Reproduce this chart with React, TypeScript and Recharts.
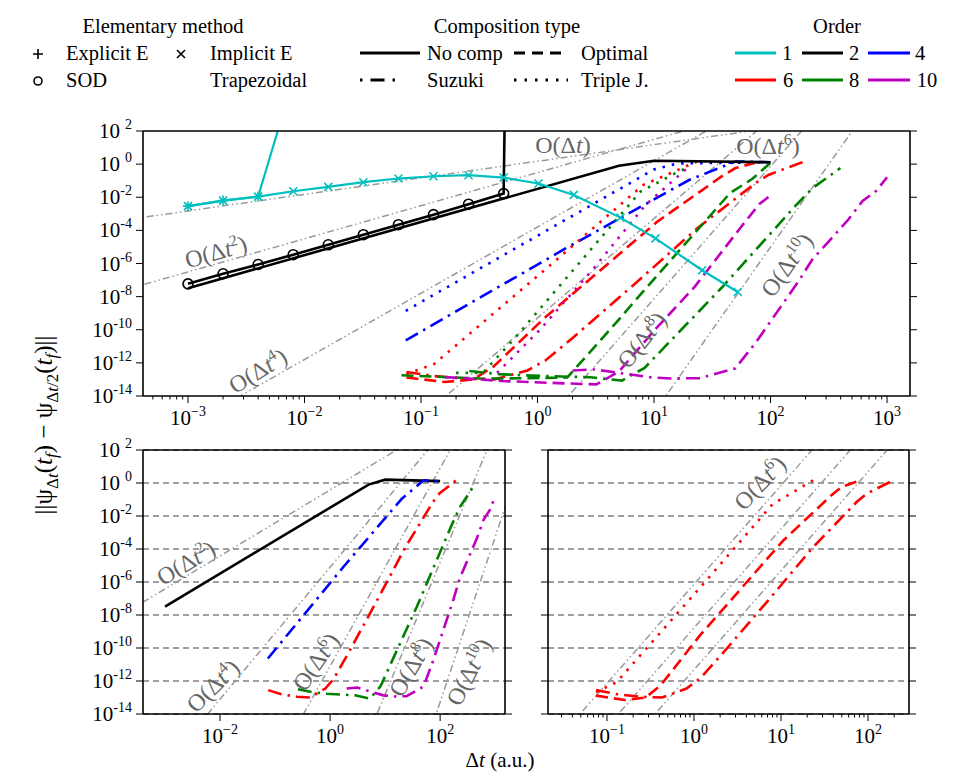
import React from 'react';
import { LineChart, Line, XAxis, YAxis, CartesianGrid } from 'recharts';

type Pt = [number, number];

const FONT = "'Liberation Serif', 'DejaVu Serif', 'Times New Roman', serif";

// ---------- error vs time step, [dt (a.u.), error] ----------

// order 1 elementary propagators
const implicitEuler: Pt[] = [
  [1e-3, 2.9e-3], [2e-3, 6.3e-3], [4e-3, 1.1e-2], [8e-3, 2.3e-2], [1.6e-2, 4.2e-2],
  [3.2e-2, 8.1e-2], [6.4e-2, 0.135], [0.128, 0.186], [0.256, 0.214], [0.512, 0.155],
  [1.02, 0.068], [2.05, 1.38e-2], [5.15, 5.9e-4], [10.3, 3.3e-5], [25.9, 3.9e-7], [52.4, 1.9e-8],
];
const explicitEuler: Pt[] = [[1e-3, 2.9e-3], [2e-3, 6.3e-3], [4e-3, 1.1e-2], [8e-3, 1.3e5]];

// order 2 elementary propagators
const sod: Pt[] = [
  [1e-3, 5.9e-8], [2e-3, 2.4e-7], [4e-3, 8.7e-7], [8e-3, 3.4e-6], [1.6e-2, 1.35e-5],
  [3.2e-2, 5.5e-5], [6.4e-2, 2.2e-4], [0.128, 8.9e-4], [0.256, 3.8e-3], [0.512, 1.66e-2],
  [1.024, 1e150],
];
const trapezoidal: Pt[] = [[1e-3, 3.2e-8], [5, 0.8], [10, 1.6], [100, 1.3]];

// order 4 compositions
const triple4: Pt[] = [[0.074, 1.4e-9], [10, 0.48], [16, 1.1], [100, 1.3]];
const suzuki4: Pt[] = [[0.074, 2.3e-11], [1.74, 8.1e-6], [20, 0.11], [50, 1.45], [100, 1.3]];

// order 6 compositions
const triple6: Pt[] = [[0.075, 2.1e-13], [0.13, 8.7e-13], [1.26, 7e-7], [8.1, 5.6e-2], [13.8, 0.28], [23.4, 1.45]];
const optimal6: Pt[] = [
  [0.075, 1.3e-13], [0.16, 7e-14], [0.28, 1e-13], [0.42, 6e-13], [1.17, 5.8e-10],
  [10.7, 3.4e-4], [38, 0.18], [50, 0.58], [81, 1.45],
];
const suzuki6: Pt[] = [
  [0.075, 2.8e-13], [0.13, 1.6e-13], [0.25, 1.1e-13], [0.43, 1e-13], [0.82, 3.5e-13],
  [1.17, 1.4e-12], [2.0, 3.2e-11], [6.9, 6.2e-8], [23.4, 1.3e-4], [74, 7e-2], [97, 0.23], [195, 1.45],
];

// order 8 compositions
const triple8: Pt[] = [[0.2, 2.5e-13], [0.34, 2.5e-13], [0.63, 2.8e-11], [7.66, 2.2e-2], [16.3, 0.36], [20.6, 0.72]];
const optimal8: Pt[] = [
  [0.068, 1.8e-13], [0.35, 1.1e-13], [1.8, 1.3e-13], [4.8, 3e-10], [6.9, 5.8e-9],
  [45, 1.8e-2], [70, 0.13], [100, 1.2],
];
const suzuki8: Pt[] = [
  [0.26, 3.2e-13], [0.47, 2.1e-13], [0.87, 1.7e-13], [2.85, 1.35e-13], [5.3, 8.5e-14],
  [8.3, 5e-13], [37.7, 3.2e-8], [162, 2.8e-3], [229, 3.5e-2], [398, 0.58],
];

// order 10 compositions
const triple10: Pt[] = [[0.45, 2.5e-13], [0.57, 1.3e-12], [1.03, 8.7e-11], [2.95, 4e-7], [8.45, 3.4e-3], [20, 0.72]];
const optimal10: Pt[] = [
  [0.16, 1.4e-13], [0.5, 8e-14], [1.5, 6e-14], [3.2, 5e-14], [5.0, 3e-13], [10, 8.7e-11],
  [22.4, 4e-8], [55, 1.4e-4], [80, 3.8e-3], [100, 1.3e-2],
];
const suzuki10: Pt[] = [
  [2.0, 3.5e-13], [3.1, 4e-13], [9.3, 1.35e-13], [14, 1.15e-13], [24.5, 1.2e-13], [50, 4.7e-13],
  [76, 2e-11], [107, 6.3e-10], [174, 8.5e-8], [229, 1.8e-6], [327, 2.8e-5], [468, 4.7e-4],
  [617, 6e-3], [813, 2.5e-2], [1000, 0.16],
];

// ---------- reference slopes O(dt^n) ----------
const guideTop1: Pt[] = [[1e-4, 1.49e-4], [1e4, 1.49e4]];
const guideTop2: Pt[] = [[1e-4, 3.1e-9], [1e4, 3.1e7]];
const guideTop4: Pt[] = [[1e-4, 1.6e-20], [1e4, 1.6e12]];
const guideTop6: Pt[] = [[1e-2, 5.2e-22], [1e4, 5.2e14]];
const guideTop8: Pt[] = [[0.1, 7.4e-25], [1e3, 7.4e7]];
const guideTop10: Pt[] = [[1, 9.8e-26], [1e4, 9.8e14]];

const guideLeft2: Pt[] = [[1e-4, 3.8e-9], [1e4, 3.8e7]];
const guideLeft4: Pt[] = [[1e-4, 7.9e-22], [1e4, 7.9e10]];
const guideLeft6: Pt[] = [[1e-2, 7.9e-24], [1e4, 7.9e12]];
const guideLeft8: Pt[] = [[0.1, 1.55e-29], [1e4, 1.55e11]];
const guideLeft10: Pt[] = [[1, 5.2e-34], [1e4, 5.2e6]];

const guideRightA: Pt[] = [[1e-2, 7.2e-19], [1e3, 7.2e11]];
const guideRightB: Pt[] = [[1e-2, 1.65e-21], [1e3, 1.65e9]];
const guideRightC: Pt[] = [[1e-2, 4.8e-24], [1e3, 4.8e6]];

// ---------- axis ticks ----------
const yTicks = [1e-14, 1e-12, 1e-10, 1e-8, 1e-6, 1e-4, 1e-2, 1, 1e2];
const topDecades = [1e-3, 1e-2, 1e-1, 1, 10, 100, 1000];
const leftDecades = [1e-2, 1, 100];
const rightDecades = [0.1, 1, 10, 100];

const Y_DOMAIN: [number, number] = [1e-14, 1e2];
const TOP_X: [number, number] = [4.11e-4, 1.575e3];
const LEFT_X: [number, number] = [3.98e-4, 1.51e3];
const RIGHT_X: [number, number] = [2.1e-2, 296];

function minorTicks(domain: [number, number]): number[] {
  const out: number[] = [];
  for (let k = -5; k <= 4; k++) {
    for (let m = 2; m <= 9; m++) {
      const v = m * Math.pow(10, k);
      if (v > domain[0] && v < domain[1]) out.push(v);
    }
  }
  return out;
}

const COL = {
  cyan: '#00BFBF', black: '#000000', blue: '#0000FF', red: '#FF0000',
  green: '#008000', magenta: '#BF00BF', guide: '#9a9a9a', label: '#666666',
};
const DASHED = '12 6';
const DASHDOT = '14 6 2.5 6';
const DOTTED = '2.5 7';
const GUIDE = '7 3 1.5 3 1.5 3';

const rows = (pts: Pt[]) => pts.map(([x, y]) => ({ x, y }));
const log10 = (v: number) => Math.log(v) / Math.LN10;
const sameDecade = (a: number, b: number) => Math.abs(log10(a) - log10(b)) < 1e-6;

// ---------- markers ----------
const xMarker = (color: string) => (p: any) => {
  const { cx, cy, index } = p;
  if (!isFinite(cx) || !isFinite(cy)) return <g key={`x${index}`} />;
  return (
    <path key={`x${index}`} d={`M${cx - 4},${cy - 4}L${cx + 4},${cy + 4}M${cx - 4},${cy + 4}L${cx + 4},${cy - 4}`}
      stroke={color} strokeWidth={1.6} fill="none" />
  );
};
const plusMarker = (color: string) => (p: any) => {
  const { cx, cy, index } = p;
  if (!isFinite(cx) || !isFinite(cy)) return <g key={`p${index}`} />;
  return (
    <path key={`p${index}`} d={`M${cx - 5},${cy}L${cx + 5},${cy}M${cx},${cy - 5}L${cx},${cy + 5}`}
      stroke={color} strokeWidth={1.6} fill="none" />
  );
};
const circleMarker = (p: any) => {
  const { cx, cy, index } = p;
  if (!isFinite(cx) || !isFinite(cy) || cy < -50) return <g key={`o${index}`} />;
  return <circle key={`o${index}`} cx={cx} cy={cy} r={5} stroke="#000" strokeWidth={1.6} fill="none" />;
};

// ---------- ticks ----------
const supText = (e: number) => (e < 0 ? `\u2212${-e}` : `${e}`);

function makeXTick(majors: number[], labelled: boolean, side: 'bottom' | 'top') {
  return (props: any) => {
    const { x, y, payload, index } = props;
    const v = payload.value as number;
    const major = majors.some((m) => sameDecade(m, v));
    const len = major ? 7 : 3.5;
    const dir = side === 'bottom' ? 1 : -1;
    const e = Math.round(log10(v));
    return (
      <g key={`xt${side}${index}`}>
        <line x1={x} x2={x} y1={y} y2={y + dir * len} stroke="#000" strokeWidth={1} />
        {labelled && major && side === 'bottom' && (
          <text x={x} y={y + 29} textAnchor="middle" style={{ fontFamily: FONT }} fontSize={21} fill="#000">
            10<tspan dy={-9} fontSize={14}>{supText(e)}</tspan>
          </text>
        )}
      </g>
    );
  };
}

function makeYTick(labelled: boolean, side: 'left' | 'right') {
  return (props: any) => {
    const { x, y, payload, index } = props;
    const v = payload.value as number;
    const e = Math.round(log10(v));
    const dir = side === 'left' ? -1 : 1;
    return (
      <g key={`yt${side}${index}`}>
        <line x1={x} x2={x + dir * 7} y1={y} y2={y} stroke="#000" strokeWidth={1} />
        {labelled && side === 'left' && (
          <text x={x - 11} y={y + 7} textAnchor="end" style={{ fontFamily: FONT }} fontSize={21} fill="#000">
            10<tspan dy={-9} dx={e >= 0 ? 5 : 0} fontSize={14}>{e >= 0 ? `${e}` : `-${-e}`}</tspan>
          </text>
        )}
      </g>
    );
  };
}

// ---------- panels ----------
interface SeriesSpec {
  id: string;
  pts: Pt[];
  color: string;
  width: number;
  dash?: string;
  dot?: any;
}

const guide = (id: string, pts: Pt[]): SeriesSpec => ({ id, pts, color: COL.guide, width: 1.5, dash: GUIDE });

interface PanelProps {
  width: number;
  height: number;
  margin: { top: number; right: number; bottom: number; left: number };
  xDomain: [number, number];
  xMajor: number[];
  xMinor: number[];
  yAxisWidth: number;
  yLabelled: boolean;
  grid: boolean;
  series: SeriesSpec[];
}

function Panel({ width, height, margin, xDomain, xMajor, xMinor, yAxisWidth, yLabelled, grid, series }: PanelProps) {
  const xAll = [...xMajor, ...xMinor].sort((a, b) => a - b);
  const frame = { stroke: '#000', strokeWidth: 1.6 };
  return (
    <LineChart width={width} height={height} margin={margin}>
      {grid && <CartesianGrid vertical={false} stroke="#808080" strokeDasharray="6 4" strokeWidth={1.4} />}
      <XAxis dataKey="x" type="number" scale="log" domain={xDomain} allowDataOverflow ticks={xAll}
        interval={0} tickSize={0} tickMargin={0} tickLine={false} axisLine={frame} height={34}
        tick={makeXTick(xMajor, true, 'bottom')} />
      <XAxis xAxisId="top" orientation="top" type="number" scale="log" domain={xDomain} allowDataOverflow
        ticks={xMajor} interval={0} tickSize={0} tickMargin={0} tickLine={false} axisLine={frame} height={10}
        tick={makeXTick(xMajor, false, 'top')} />
      <YAxis type="number" scale="log" domain={Y_DOMAIN} allowDataOverflow ticks={yTicks} interval={0}
        tickSize={0} tickMargin={0} tickLine={false} axisLine={frame} width={yAxisWidth}
        tick={makeYTick(yLabelled, 'left')} />
      <YAxis yAxisId="right" orientation="right" type="number" scale="log" domain={Y_DOMAIN} allowDataOverflow
        ticks={yTicks} interval={0} tickSize={0} tickMargin={0} tickLine={false} axisLine={frame} width={10}
        tick={makeYTick(false, 'right')} />
      {series.map((s) => (
        <Line key={s.id} data={rows(s.pts)} dataKey="y" type="linear" stroke={s.color} strokeWidth={s.width}
          strokeDasharray={s.dash} dot={s.dot ?? false} activeDot={false} isAnimationActive={false}
          strokeLinecap="butt" />
      ))}
    </LineChart>
  );
}

const topSeries: SeriesSpec[] = [
  guide('g1', guideTop1), guide('g2', guideTop2), guide('g4', guideTop4),
  guide('g6', guideTop6), guide('g8', guideTop8), guide('g10', guideTop10),
  { id: 'tj4', pts: triple4, color: COL.blue, width: 2.6, dash: DOTTED },
  { id: 'su4', pts: suzuki4, color: COL.blue, width: 2.6, dash: DASHDOT },
  { id: 'tj6', pts: triple6, color: COL.red, width: 2.6, dash: DOTTED },
  { id: 'op6', pts: optimal6, color: COL.red, width: 2.6, dash: DASHED },
  { id: 'su6', pts: suzuki6, color: COL.red, width: 2.6, dash: DASHDOT },
  { id: 'tj8', pts: triple8, color: COL.green, width: 2.6, dash: DOTTED },
  { id: 'op8', pts: optimal8, color: COL.green, width: 2.6, dash: DASHED },
  { id: 'su8', pts: suzuki8, color: COL.green, width: 2.6, dash: DASHDOT },
  { id: 'tj10', pts: triple10, color: COL.magenta, width: 2.6, dash: DOTTED },
  { id: 'op10', pts: optimal10, color: COL.magenta, width: 2.6, dash: DASHED },
  { id: 'su10', pts: suzuki10, color: COL.magenta, width: 2.6, dash: DASHDOT },
  { id: 'trap', pts: trapezoidal, color: COL.black, width: 2.6 },
  { id: 'sod', pts: sod, color: COL.black, width: 2.6, dot: circleMarker },
  { id: 'ee', pts: explicitEuler, color: COL.cyan, width: 2.2, dot: plusMarker(COL.cyan) },
  { id: 'ie', pts: implicitEuler, color: COL.cyan, width: 2.2, dot: xMarker(COL.cyan) },
];

const leftSeries: SeriesSpec[] = [
  guide('g2', guideLeft2), guide('g4', guideLeft4), guide('g6', guideLeft6),
  guide('g8', guideLeft8), guide('g10', guideLeft10),
  { id: 'trap', pts: trapezoidal, color: COL.black, width: 2.6 },
  { id: 'su4', pts: suzuki4, color: COL.blue, width: 2.6, dash: DASHDOT },
  { id: 'su6', pts: suzuki6, color: COL.red, width: 2.6, dash: DASHDOT },
  { id: 'su8', pts: suzuki8, color: COL.green, width: 2.6, dash: DASHDOT },
  { id: 'su10', pts: suzuki10, color: COL.magenta, width: 2.6, dash: DASHDOT },
];

const rightSeries: SeriesSpec[] = [
  guide('ga', guideRightA), guide('gb', guideRightB), guide('gc', guideRightC),
  { id: 'tj6', pts: triple6, color: COL.red, width: 2.6, dash: DOTTED },
  { id: 'op6', pts: optimal6, color: COL.red, width: 2.6, dash: DASHED },
  { id: 'su6', pts: suzuki6, color: COL.red, width: 2.6, dash: DASHDOT },
];

// ---------- annotations ----------
function OrderLabel({ x, y, angle, n }: { x: number; y: number; angle: number; n: number }) {
  return (
    <text transform={`translate(${x},${y}) rotate(${-angle})`} textAnchor="middle" dy={8}
      style={{ fontFamily: FONT }} fontSize={24} fill={COL.label}>
      O(Δ<tspan fontStyle="italic">t</tspan>
      {n > 1 ? <tspan dy={-9} fontSize={16}>{n}</tspan> : null}
      <tspan dy={n > 1 ? 9 : 0}>)</tspan>
    </text>
  );
}

const orderLabels = [
  { n: 1, x: 563, y: 145, angle: 0 },
  { n: 6, x: 768, y: 146, angle: 0 },
  { n: 2, x: 216, y: 252, angle: 16 },
  { n: 4, x: 258, y: 371, angle: 32 },
  { n: 8, x: 642, y: 340, angle: 52 },
  { n: 10, x: 787, y: 265, angle: 55 },
  { n: 2, x: 186, y: 563, angle: 31 },
  { n: 4, x: 213, y: 686, angle: 45 },
  { n: 6, x: 316, y: 662, angle: 56 },
  { n: 8, x: 411, y: 667, angle: 60 },
  { n: 10, x: 469, y: 672, angle: 63 },
  { n: 6, x: 760, y: 483, angle: 47 },
];

function LegendBlock() {
  const t = { style: { fontFamily: FONT }, fontSize: 20.5, fill: '#000' } as const;
  const ln = (x1: number, x2: number, y: number, color: string, dash?: string, w = 3) => (
    <line x1={x1} x2={x2} y1={y} y2={y} stroke={color} strokeWidth={w} strokeDasharray={dash} />
  );
  return (
    <svg width={957} height={100} style={{ position: 'absolute', left: 0, top: 0 }}>
      <text x={163} y={33} textAnchor="middle" {...t}>Elementary method</text>
      <path d="M33,54h10M38,49v10" stroke="#000" strokeWidth={1.6} />
      <text x={66} y={60} {...t}>Explicit E</text>
      <path d="M177,50l8,8M177,58l8,-8" stroke="#000" strokeWidth={1.6} />
      <text x={210} y={60} {...t}>Implicit E</text>
      <circle cx={38} cy={81} r={4} stroke="#000" strokeWidth={1.6} fill="none" />
      <text x={66} y={87} {...t}>SOD</text>
      <text x={210} y={87} {...t}>Trapezoidal</text>

      <text x={507} y={33} textAnchor="middle" {...t}>Composition type</text>
      {ln(360, 420, 53, '#000')}
      <text x={427} y={60} {...t}>No comp</text>
      {ln(514, 566, 53, '#000', '11 7')}
      <text x={581} y={60} {...t}>Optimal</text>
      <line x1={360} x2={410} y1={80} y2={80} stroke="#000" strokeWidth={3} strokeDasharray="2.5 8 14 8 2.5 30" />
      <text x={427} y={87} {...t}>Suzuki</text>
      {ln(514, 568, 80, '#000', '2.5 8')}
      <text x={581} y={87} {...t}>Triple J.</text>

      <text x={837} y={33} textAnchor="middle" {...t}>Order</text>
      {ln(735, 776, 53, COL.cyan)}
      <text x={787} y={60} textAnchor="middle" {...t}>1</text>
      {ln(802, 843, 53, COL.black)}
      <text x={854} y={60} textAnchor="middle" {...t}>2</text>
      {ln(868, 910, 53, COL.blue)}
      <text x={920} y={60} textAnchor="middle" {...t}>4</text>
      {ln(735, 776, 80, COL.red)}
      <text x={788} y={87} textAnchor="middle" {...t}>6</text>
      {ln(802, 843, 80, COL.green)}
      <text x={854} y={87} textAnchor="middle" {...t}>8</text>
      {ln(868, 910, 80, COL.magenta)}
      <text x={927} y={87} textAnchor="middle" {...t}>10</text>
    </svg>
  );
}

export default function App() {
  return (
    <div style={{ position: 'absolute', left: 0, top: 0, width: 957, height: 778, background: '#fff', overflow: 'hidden' }}>
      <LegendBlock />
      <div style={{ position: 'absolute', left: 0, top: 0 }}>
        <Panel width={957} height={440} margin={{ top: 121, right: 37, bottom: 10, left: 0 }}
          xDomain={TOP_X} xMajor={topDecades} xMinor={minorTicks(TOP_X)} yAxisWidth={143} yLabelled
          grid={false} series={topSeries} />
      </div>
      <div style={{ position: 'absolute', left: 0, top: 420 }}>
        <Panel width={520} height={340} margin={{ top: 20, right: 5, bottom: 12, left: 0 }}
          xDomain={LEFT_X} xMajor={leftDecades} xMinor={[]} yAxisWidth={143} yLabelled
          grid series={leftSeries} />
      </div>
      <div style={{ position: 'absolute', left: 520, top: 420 }}>
        <Panel width={437} height={340} margin={{ top: 20, right: 38, bottom: 12, left: 0 }}
          xDomain={RIGHT_X} xMajor={rightDecades} xMinor={minorTicks(RIGHT_X)} yAxisWidth={28}
          yLabelled={false} grid series={rightSeries} />
      </div>
      <svg width={957} height={778} style={{ position: 'absolute', left: 0, top: 0, pointerEvents: 'none' }}>
        {orderLabels.map((l, i) => <OrderLabel key={i} {...l} />)}
        <text transform="translate(52,425) rotate(-90)" textAnchor="middle" style={{ fontFamily: FONT }} fontSize={25} fill="#000">
          ||ψ<tspan dy={6} fontSize={17}>Δ</tspan><tspan fontSize={17} fontStyle="italic">t</tspan>
          <tspan dy={-6}>(</tspan><tspan fontStyle="italic">t</tspan><tspan dy={5} fontSize={17} fontStyle="italic">f</tspan>
          <tspan dy={-5}>) − ψ</tspan><tspan dy={6} fontSize={17}>Δ</tspan><tspan fontSize={17} fontStyle="italic">t</tspan>
          <tspan fontSize={17}>/2</tspan><tspan dy={-6}>(</tspan><tspan fontStyle="italic">t</tspan>
          <tspan dy={5} fontSize={17} fontStyle="italic">f</tspan><tspan dy={-5}>)||</tspan>
        </text>
        <text x={500} y={767} textAnchor="middle" style={{ fontFamily: FONT }} fontSize={21} fill="#000">
          Δ<tspan fontStyle="italic">t</tspan> (a.u.)
        </text>
      </svg>
    </div>
  );
}
